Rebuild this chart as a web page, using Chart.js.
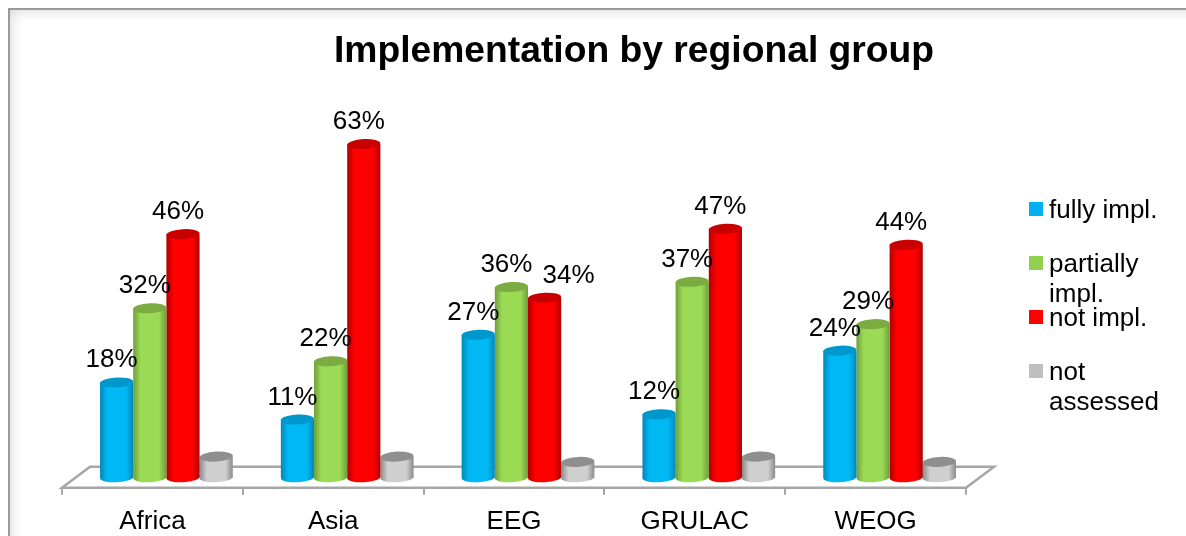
<!DOCTYPE html>
<html><head><meta charset="utf-8">
<style>
html,body{margin:0;padding:0;background:#fff;overflow:hidden}
#wrap{position:relative;width:1186px;height:536px;overflow:hidden}
#frame{position:absolute;left:8px;top:8px;width:1300px;height:660px;border:2px solid #9a9a9a;box-shadow:inset 0 0 14px rgba(0,0,0,.18);box-sizing:border-box}
canvas{position:absolute;left:0;top:0}
</style>
<script src="https://cdn.jsdelivr.net/npm/chart.js@4"></script>
</head><body><div id="wrap"><div id="frame"></div><canvas id="c" width="1186" height="548"></canvas></div>
<script>
const categories = ["Africa","Asia","EEG","GRULAC","WEOG"];
const seriesNames = ["fully impl.","partially impl.","not impl.","not assessed"];
const fullyImpl = [18,11,27,12,24];
const partiallyImpl = [32,22,36,37,29];
const notImpl = [46,63,34,47,44];
const notAssessed = [4,4,3,4,3];
const legendLines = [["fully impl."],["partially","impl."],["not impl."],["not","assessed"]];
const titleText = "Implementation by regional group";

const FONT = '"Liberation Sans", Arial, sans-serif';
const palette = [
 {edge:'#0088b8',mid:'#00b8f4',top:'#0098cc',key:'#00b0f0'},
 {edge:'#6f9e3a',mid:'#9ada55',top:'#7cab41',key:'#92d050'},
 {edge:'#b00000',mid:'#ff0000',top:'#c80000',key:'#ff0000'},
 {edge:'#8a8a8a',mid:'#cfcfcf',top:'#8f8f8f',key:'#bfbfbf'}
];
const DX = 14, DY = -10;           // 3-D shift of the bars above the floor
const TILT = -0.05, RY = 5;
const labelNudge = {"2-2": 29};    // the EEG "34%" label was moved aside

function grad(c,l,w,p){
  const g = c.createLinearGradient(l,0,l+w,0);
  g.addColorStop(0,p.edge); g.addColorStop(.22,p.mid); g.addColorStop(.78,p.mid); g.addColorStop(1,p.edge);
  return g;
}
function bodyFill(ctx){
  const chart = ctx.chart, p = palette[ctx.datasetIndex];
  const cat = chart.scales.x ? chart.scales.x.getPixelForValue(ctx.dataIndex) : NaN;
  if(!isFinite(cat)) return p.mid;
  const w = 33.2;
  return grad(chart.ctx, cat + (ctx.datasetIndex-2)*w, w, p);
}
const cylinder3d = {
  id:'cylinder3d',
  beforeDatasetsDraw(chart){
    const c = chart.ctx, a = chart.chartArea;
    const bk = 21, sk = 28;
    c.save();
    c.strokeStyle='#a6a6a6'; c.lineWidth=2.5;
    c.beginPath();
    c.moveTo(a.left,a.bottom);
    c.lineTo(a.left+sk,a.bottom-bk);
    c.lineTo(a.right+sk,a.bottom-bk);
    c.lineTo(a.right,a.bottom);
    c.closePath();
    c.stroke();
    c.restore();
    c.save(); c.translate(DX,DY);
  },
  afterDatasetsDraw(chart){
    const c = chart.ctx;
    c.restore();
    c.save(); c.translate(DX,DY);
    chart.data.datasets.forEach((d,i)=>{
      chart.getDatasetMeta(i).data.forEach(el=>{
        c.fillStyle=grad(c,el.x-el.width/2,el.width,palette[i]);
        c.beginPath(); c.ellipse(el.x,el.base-0.5,el.width/2,RY,TILT,0,Math.PI*2); c.fill();
        c.fillStyle=palette[i].top;
        c.beginPath(); c.ellipse(el.x,el.y,el.width/2,RY,TILT,0,Math.PI*2); c.fill();
      });
    });
    c.restore();
    // value labels
    c.save();
    c.font='26px '+FONT; c.fillStyle='#000'; c.textAlign='center'; c.textBaseline='alphabetic';
    chart.data.datasets.forEach((d,i)=>{
      if(i===3) return;
      chart.getDatasetMeta(i).data.forEach((el,j)=>{
        const n = labelNudge[i+'-'+j]||0;
        c.fillText(d.data[j]+'%', el.x+DX-5+n, el.y+DY-15);
      });
    });
    // legend
    const ys=[209,263,317,371];
    c.textAlign='left';
    legendLines.forEach((lines,i)=>{
      c.fillStyle=palette[i].key;
      c.fillRect(1029,ys[i]-7,14,14);
      c.fillStyle='#000';
      lines.forEach((t,k)=>c.fillText(t,1049,ys[i]+9+k*30));
    });
    c.fillStyle='#000'; c.textAlign='center'; c.font='bold 37.25px '+FONT;
    c.fillText(titleText,634,62);
    c.restore();
  }
};
new Chart(document.getElementById('c'),{
  type:'bar',
  data:{labels:categories,datasets:[fullyImpl,partiallyImpl,notImpl,notAssessed].map((v,i)=>({
    label:seriesNames[i],data:v,backgroundColor:bodyFill,borderWidth:0,
    categoryPercentage:0.734,barPercentage:1
  }))},
  plugins:[cylinder3d],
  options:{
    responsive:false,animation:false,
    layout:{padding:{left:62,right:220,top:117,bottom:0}},
    plugins:{legend:{display:false},tooltip:{enabled:false},title:{display:false}},
    scales:{
      x:{position:'bottom',border:{display:false},
         grid:{display:true,drawOnChartArea:false,color:'#a6a6a6',lineWidth:2,tickLength:7,offset:true},
         ticks:{color:'#000',font:{family:FONT,size:26},padding:11,maxRotation:0,autoSkip:false}},
      y:{display:false,min:0,max:70}
    }
  }
});
</script></body></html>
